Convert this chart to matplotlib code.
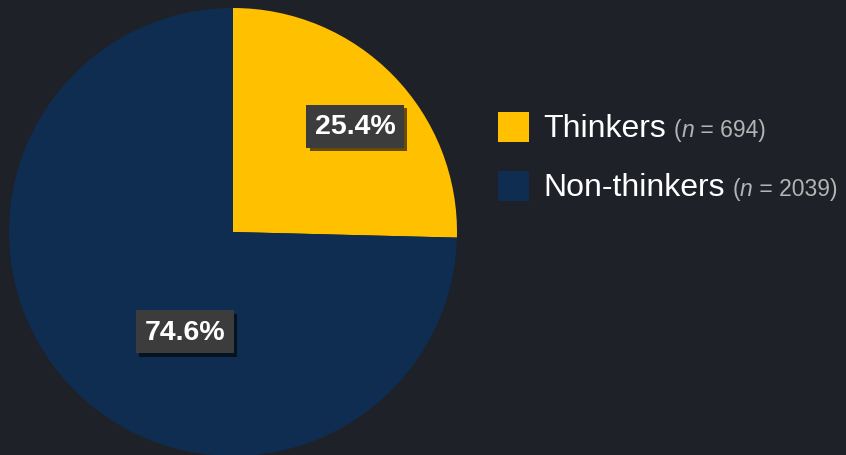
import matplotlib.pyplot as plt
from matplotlib.patches import Rectangle
import matplotlib.patheffects as pe

plt.rcParams['font.family'] = ['Liberation Sans', 'DejaVu Sans']

# data
groups = ['Thinkers', 'Non-thinkers']
counts = [694, 2039]
shares = [25.4, 74.6]
colors = ['#FFC000', '#0E2D50']

BG = '#1e2128'
W, H = 846, 456

fig = plt.figure(figsize=(W / 100, H / 100), dpi=100, facecolor=BG)

# pie axes: centre (233, 233) px, radius 224 px
cx, cy, r = 233, 233, 224
ax = fig.add_axes([(cx - r) / W, (H - cy - r) / H, 2 * r / W, 2 * r / H])
ax.set_facecolor('none')
ax.pie(shares, colors=colors, startangle=90, counterclock=False,
       wedgeprops=dict(linewidth=0))
ax.set_xlim(-1, 1)
ax.set_ylim(-1, 1)
ax.set_aspect('equal')
ax.axis('off')

# percentage labels with dark boxes
label_pos = [(0.545, 0.473), (-0.215, -0.446)]
for (x, y), s in zip(label_pos, shares):
    t = ax.text(x, y, f'{s:.1f}%', ha='center', va='center', color='white',
                fontsize=20.5, fontweight='bold',
                bbox=dict(boxstyle='square,pad=0.3', fc='#3c3c3c', ec='none'))
    t.get_bbox_patch().set_path_effects(
        [pe.SimplePatchShadow(offset=(2.5, -2.5), shadow_rgbFace='black', alpha=0.6),
         pe.Normal()])

# legend drawn by hand
fig.canvas.draw()
renderer = fig.canvas.get_renderer()
rows_top = [113, 172]
for top, name, n, c in zip(rows_top, groups, counts, colors):
    fig.patches.append(Rectangle((498 / W, (H - top - 30) / H), 31 / W, 30 / H,
                                 transform=fig.transFigure, fc=c, ec='none'))
    base = H - (top + 24)
    t1 = fig.text(543 / W, base / H, name, color='white', fontsize=23,
                  va='baseline', ha='left')
    bb = t1.get_window_extent(renderer)
    x0 = bb.x1 + 8
    t2 = fig.text(x0 / W, base / H, '(', color='#b4b4b4', fontsize=16.5, va='baseline')
    bb = t2.get_window_extent(renderer)
    t3 = fig.text(bb.x1 / W, base / H, 'n', color='#b4b4b4', fontsize=16.5,
                  style='italic', va='baseline')
    bb = t3.get_window_extent(renderer)
    fig.text(bb.x1 / W, base / H, f' = {n})', color='#b4b4b4', fontsize=16.5,
             va='baseline')

fig.savefig('out.png', dpi=100, facecolor=BG)
